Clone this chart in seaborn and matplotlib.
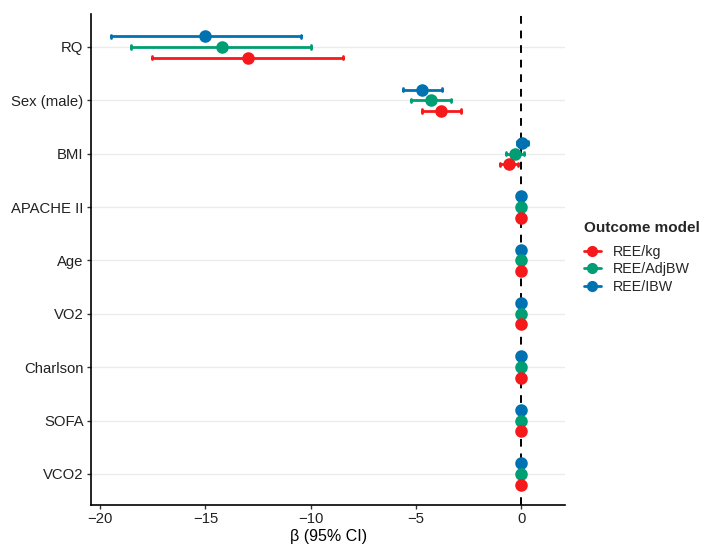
import numpy as np
import pandas as pd
import matplotlib
matplotlib.use("Agg")
import matplotlib.pyplot as plt
from matplotlib.lines import Line2D
import seaborn as sns

predictors = ["RQ", "Sex (male)", "BMI", "APACHE II", "Age", "VO2", "Charlson", "SOFA", "VCO2"]
models = ["REE/kg", "REE/AdjBW", "REE/IBW"]
colors = {"REE/kg": "#F5191C", "REE/AdjBW": "#009E73", "REE/IBW": "#0072B2"}

# estimates and 95% CI per model
kg_est = [-13.0, -3.80, -0.60, 0.0, 0.0, 0.0, 0.0, 0.0, 0.0]
kg_lo  = [-17.55, -4.72, -1.03, -0.05, -0.05, -0.05, -0.05, -0.05, -0.05]
kg_hi  = [-8.45, -2.85, -0.18, 0.05, 0.05, 0.05, 0.05, 0.05, 0.05]

adj_est = [-14.2, -4.31, -0.28, 0.0, 0.0, 0.0, 0.0, 0.0, 0.0]
adj_lo  = [-18.55, -5.24, -0.71, -0.05, -0.05, -0.05, -0.05, -0.05, -0.05]
adj_hi  = [-9.97, -3.36, 0.14, 0.05, 0.05, 0.05, 0.05, 0.05, 0.05]

ibw_est = [-15.0, -4.72, 0.05, 0.0, 0.0, 0.0, 0.0, 0.0, 0.0]
ibw_lo  = [-19.5, -5.64, -0.20, -0.05, -0.05, -0.05, -0.05, -0.05, -0.05]
ibw_hi  = [-10.45, -3.77, 0.30, 0.05, 0.05, 0.05, 0.05, 0.05, 0.05]

series = {
    "REE/kg": (kg_est, kg_lo, kg_hi),
    "REE/AdjBW": (adj_est, adj_lo, adj_hi),
    "REE/IBW": (ibw_est, ibw_lo, ibw_hi),
}

rows = []
for m, (est, lo, hi) in series.items():
    for p, e, l, h in zip(predictors, est, lo, hi):
        for v in (l, e, h):
            rows.append({"Predictor": p, "Model": m, "beta": v})
df = pd.DataFrame(rows)

sns.set_theme(style="white")
plt.rcParams["font.family"] = ["Liberation Sans", "DejaVu Sans"]

fig = plt.figure(figsize=(7.12, 5.56), dpi=100)
ax = fig.add_axes([0.128, 0.092, 0.666, 0.883])

# grid lines at categories
for i in range(len(predictors)):
    ax.axhline(i, color="#EBEBEB", lw=1.0, zorder=0)

ax.axvline(0, color="black", ls=(0, (4, 3.5)), lw=1.4, zorder=1)

hue_plot_order = ["REE/IBW", "REE/AdjBW", "REE/kg"]
sns.pointplot(data=df, x="beta", y="Predictor", hue="Model", order=predictors,
              hue_order=hue_plot_order, palette=colors, estimator="median",
              errorbar=lambda v: (np.min(v), np.max(v)), dodge=0.4,
              linestyle="none", markersize=7, err_kws={"linewidth": 2},
              capsize=0.06, orient="h", ax=ax, legend=False, zorder=3)

ax.set_xlim(-20.43, 2.09)
ax.set_ylim(len(predictors) - 1 + 0.58, -0.62)
ax.set_xticks([-20, -15, -10, -5, 0])
ax.set_xticklabels(["\u221220", "\u221215", "\u221210", "\u22125", "0"])
ax.set_xlabel("\u03b2 (95% CI)", fontsize=11.5, color="black", labelpad=2)
ax.set_ylabel("")
ax.tick_params(axis="both", labelsize=10.7, colors="#333333", length=3, width=1,
               direction="out", bottom=True, left=True, labelcolor="#222222", pad=2.5)
for s in ["top", "right"]:
    ax.spines[s].set_visible(False)
for s in ["left", "bottom"]:
    ax.spines[s].set_color("black")
    ax.spines[s].set_linewidth(1.2)

handles = [Line2D([0], [0], color=colors[m], marker="o", markersize=7, lw=2) for m in models]
leg = fig.legend(handles, models, title="Outcome model", loc="upper left",
                 bbox_to_anchor=(0.802, 0.626), frameon=False, fontsize=10.3,
                 title_fontsize=11, handlelength=1.2, labelspacing=0.25,
                 alignment="left")
leg.get_title().set_fontweight("bold")
leg._legend_box.sep = 7

fig.savefig("out.png", dpi=100)
